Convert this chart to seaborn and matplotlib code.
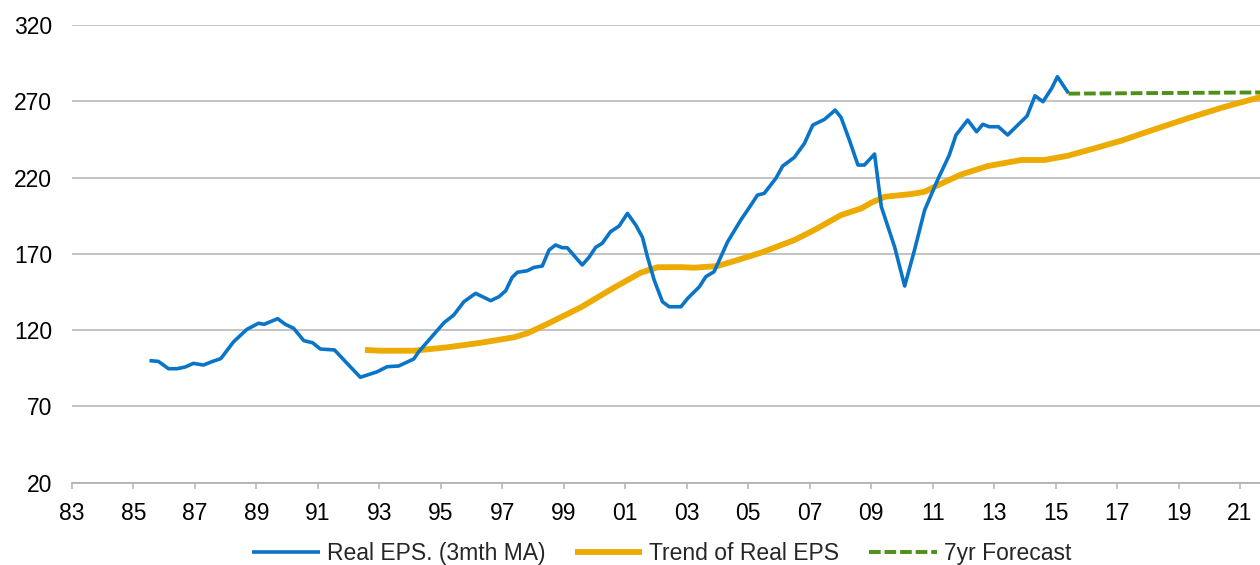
import pandas as pd
import numpy as np
import matplotlib
matplotlib.use('Agg')
import matplotlib.pyplot as plt
import seaborn as sns

# Real EPS (3mth MA)
eps_years = [1985.52, 1985.81, 1986.14, 1986.41, 1986.68, 1986.95, 1987.28, 1987.55, 1987.84,
             1988.26, 1988.69, 1989.07, 1989.25, 1989.69, 1989.94, 1990.21, 1990.54, 1990.83,
             1991.08, 1991.54, 1991.95, 1992.38, 1992.93, 1993.25, 1993.63, 1994.12, 1994.28,
             1994.66, 1995.10, 1995.42, 1995.75, 1996.13, 1996.62, 1996.89, 1997.11, 1997.32,
             1997.49, 1997.81, 1998.03, 1998.30, 1998.52, 1998.73, 1998.95, 1999.11, 1999.60,
             1999.82, 2000.04, 2000.25, 2000.52, 2000.80, 2001.07, 2001.34, 2001.56, 2001.72,
             2001.94, 2002.21, 2002.43, 2002.81, 2003.03, 2003.41, 2003.62, 2003.89, 2004.33,
             2004.76, 2005.09, 2005.30, 2005.52, 2005.90, 2006.12, 2006.50, 2006.83, 2007.10,
             2007.48, 2007.83, 2008.02, 2008.29, 2008.57, 2008.78, 2009.11, 2009.33, 2009.76,
             2010.09, 2010.41, 2010.74, 2011.16, 2011.54, 2011.76, 2012.14, 2012.43, 2012.63,
             2012.84, 2013.14, 2013.44, 2013.77, 2014.07, 2014.33, 2014.59, 2014.87, 2015.06,
             2015.42]
eps_values = [100.0, 99.5, 94.7, 94.7, 95.8, 98.2, 97.1, 99.3, 101.3,
              112.4, 120.5, 124.5, 123.8, 127.5, 123.8, 121.2, 113.1, 111.7,
              107.6, 107.0, 98.2, 89.1, 92.7, 96.0, 96.5, 101.1, 105.8,
              114.6, 124.8, 129.9, 138.6, 144.1, 139.3, 141.9, 145.8, 154.6,
              157.9, 158.9, 161.1, 162.0, 172.5, 175.8, 174.0, 174.0, 162.7,
              167.7, 174.3, 176.9, 184.5, 188.2, 196.5, 188.9, 180.8, 168.1,
              152.8, 138.6, 135.3, 135.3, 140.8, 148.4, 155.0, 158.3, 177.9,
              192.2, 202.0, 208.5, 209.6, 219.5, 227.5, 233.2, 242.4, 254.4,
              258.1, 264.2, 259.4, 244.6, 228.2, 228.2, 235.4, 200.9, 174.7,
              148.9, 172.5, 198.7, 218.4, 234.7, 247.9, 257.7, 250.0, 254.9,
              253.3, 253.3, 247.9, 254.4, 260.3, 273.6, 269.7, 278.4, 286.1,
              275.2]

# Trend of Real EPS
trend_years = [1992.53, 1993.03, 1994.12, 1995.20, 1996.29, 1997.38, 1997.81, 1998.46, 1999.55,
               2000.63, 2001.50, 2002.05, 2002.81, 2003.24, 2004.00, 2004.65, 2005.41, 2006.50,
               2007.15, 2008.02, 2008.68, 2009.00, 2009.44, 2010.31, 2010.74, 2011.18, 2011.94,
               2012.79, 2013.88, 2014.64, 2015.40, 2016.26, 2017.13, 2018.22, 2019.30, 2020.39,
               2021.69]
trend_values = [107.0, 106.5, 106.5, 108.7, 111.7, 115.3, 117.9, 124.0, 134.9,
                147.8, 157.6, 161.2, 161.3, 160.9, 162.0, 165.9, 170.7, 179.0,
                185.6, 195.4, 199.8, 203.5, 207.4, 209.2, 210.7, 215.1, 222.1,
                227.5, 231.5, 231.5, 234.3, 239.1, 244.1, 251.6, 258.8, 265.7,
                272.9]

# 7yr Forecast
fc_years = [2015.42, 2021.69]
fc_values = [275.0, 275.8]

tick_years = list(range(1983, 2022, 2))
tick_labels = [f"{y % 100:02d}" for y in tick_years]
y_ticks = [20, 70, 120, 170, 220, 270, 320]

sns.set_theme(style='white')
plt.rcParams['font.family'] = ['Liberation Sans', 'DejaVu Sans']

blue = '#0A75C8'
yellow = '#EDAA00'
green = '#4E9018'
grey = '#b3b3b3'

fig = plt.figure(figsize=(12.6, 5.65), dpi=100)
ax = fig.add_axes([0.05714, 0.1457, 0.94286, 0.8101])

eps_df = pd.DataFrame({'year': eps_years, 'value': eps_values})
trend_df = pd.DataFrame({'year': trend_years, 'value': trend_values})
fc_df = pd.DataFrame({'year': fc_years, 'value': fc_values})

sns.lineplot(data=trend_df, x='year', y='value', ax=ax, color=yellow, linewidth=4.2,
             solid_capstyle='butt', label='Trend of Real EPS', zorder=3)
sns.lineplot(data=eps_df, x='year', y='value', ax=ax, color=blue, linewidth=2.6,
             solid_capstyle='butt', label='Real EPS. (3mth MA)', zorder=4)
sns.lineplot(data=fc_df, x='year', y='value', ax=ax, color=green, linewidth=2.8,
             dashes=False, label='7yr Forecast', zorder=4)
ax.lines[-1].set_dashes((3, 1))

ax.set_xlim(1983, 2021.65)
ax.set_ylim(20, 320)
ax.set_xticks(tick_years)
ax.set_xticklabels(tick_labels)
ax.set_yticks(y_ticks)
ax.set_xlabel('')
ax.set_ylabel('')

ax.yaxis.grid(True, color=grey, linewidth=1.1)
ax.xaxis.grid(False)
for s in ['left', 'top', 'right']:
    ax.spines[s].set_visible(False)
ax.spines['bottom'].set_color(grey)
ax.spines['bottom'].set_linewidth(1.3)
ax.tick_params(axis='y', length=0, pad=14.4, labelsize=16.5, labelcolor='black')
ax.tick_params(axis='x', bottom=True, length=4.3, width=1.1, color=grey, direction='out',
               pad=9.4, labelsize=16.5, labelcolor='black')

handles, labels = ax.get_legend_handles_labels()
order = [labels.index('Real EPS. (3mth MA)'), labels.index('Trend of Real EPS'), labels.index('7yr Forecast')]
ax.get_legend().remove()
fig.legend([handles[i] for i in order], [labels[i] for i in order], loc='center',
           bbox_to_anchor=(0.525, 0.0195), ncol=3, frameon=False, handlelength=2.95,
           handletextpad=0.3, columnspacing=1.3, fontsize=16.5)

fig.savefig('out.png', dpi=100)
